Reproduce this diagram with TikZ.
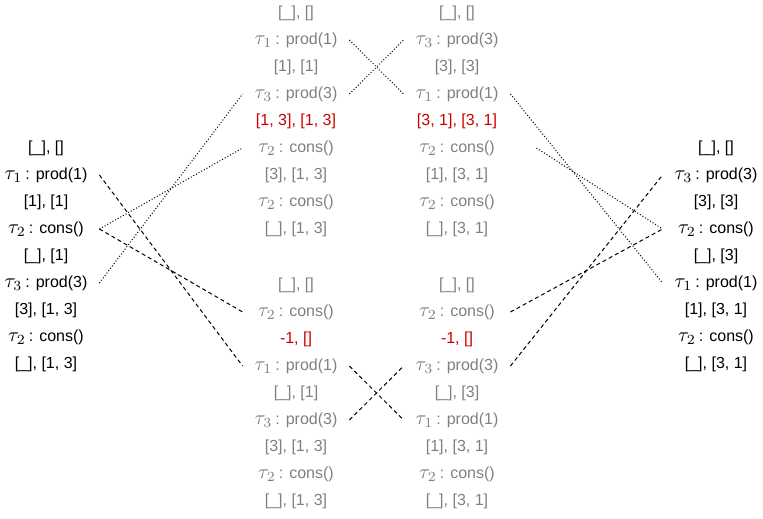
\documentclass[tikz,border=0pt]{standalone}
\usepackage{fontspec}
\setmainfont{Liberation Sans}
\definecolor{stategray}{RGB}{128,128,128}
\definecolor{statered}{RGB}{204,0,0}
\newcommand{\taulbl}[1]{{\fontsize{10}{12}\selectfont$\tau_{#1}$}\kern1.5pt:\kern3pt}
\begin{document}
\begin{tikzpicture}[x=0.5pt,y=-0.5pt,
  cell/.style={inner sep=0pt,minimum width=53pt,text height=6pt,text depth=1.8pt,font=\fontsize{8}{10}\selectfont},
  dotline/.style={draw,densely dotted,line width=0.5pt},
  dashline/.style={draw,dash pattern=on 2pt off 1.5pt,line width=0.5pt}]
\useasboundingbox (0,0) rectangle (763,518);
\foreach \c/\t [count=\i] in {black/{[\_], []}, black/{\taulbl1prod(1)}, black/{[1], [1]},
  black/{\taulbl2cons()}, black/{[\_], [1]}, black/{\taulbl3prod(3)},
  black/{[3], [1, 3]}, black/{\taulbl2cons()}, black/{[\_], [1, 3]}}
  \node[cell,text=\c] (L\i) at (46,148+27*\i-27) {\t};
\foreach \c/\t [count=\i] in {stategray/{[\_], []}, stategray/{\taulbl1prod(1)}, stategray/{[1], [1]},
  stategray/{\taulbl3prod(3)}, statered/{[1, 3], [1, 3]}, stategray/{\taulbl2cons()},
  stategray/{[3], [1, 3]}, stategray/{\taulbl2cons()}, stategray/{[\_], [1, 3]}}
  \node[cell,text=\c] (A\i) at (296,13+27*\i-27) {\t};
\foreach \c/\t [count=\i] in {stategray/{[\_], []}, stategray/{\taulbl3prod(3)}, stategray/{[3], [3]},
  stategray/{\taulbl1prod(1)}, statered/{[3, 1], [3, 1]}, stategray/{\taulbl2cons()},
  stategray/{[1], [3, 1]}, stategray/{\taulbl2cons()}, stategray/{[\_], [3, 1]}}
  \node[cell,text=\c] (B\i) at (457,13+27*\i-27) {\t};
\foreach \c/\t [count=\i] in {stategray/{[\_], []}, stategray/{\taulbl2cons()}, statered/{-1, []},
  stategray/{\taulbl1prod(1)}, stategray/{[\_], [1]}, stategray/{\taulbl3prod(3)},
  stategray/{[3], [1, 3]}, stategray/{\taulbl2cons()}, stategray/{[\_], [1, 3]}}
  \node[cell,text=\c] (C\i) at (296,285+27*\i-27) {\t};
\foreach \c/\t [count=\i] in {stategray/{[\_], []}, stategray/{\taulbl2cons()}, statered/{-1, []},
  stategray/{\taulbl3prod(3)}, stategray/{[\_], [3]}, stategray/{\taulbl1prod(1)},
  stategray/{[1], [3, 1]}, stategray/{\taulbl2cons()}, stategray/{[\_], [3, 1]}}
  \node[cell,text=\c] (D\i) at (457,285+27*\i-27) {\t};
\foreach \c/\t [count=\i] in {black/{[\_], []}, black/{\taulbl3prod(3)}, black/{[3], [3]},
  black/{\taulbl2cons()}, black/{[\_], [3]}, black/{\taulbl1prod(1)},
  black/{[1], [3, 1]}, black/{\taulbl2cons()}, black/{[\_], [3, 1]}}
  \node[cell,text=\c] (R\i) at (716,148+27*\i-27) {\t};
\path[dotline] (L4.east) -- (A6.west);
\path[dotline] (L6.east) -- (A4.west);
\path[dotline] (A2.east) -- (B4.west);
\path[dotline] (A4.east) -- (B2.west);
\path[dotline] (B4.east) -- (R6.west);
\path[dotline] ([xshift=13pt]B6.east) -- (R4.west);
\path[dashline] (L2.east) -- (C4.west);
\path[dashline] (L4.east) -- (C2.west);
\path[dashline] (C4.east) -- (D6.west);
\path[dashline] (C6.east) -- (D4.west);
\path[dashline] (D2.east) -- (R4.west);
\path[dashline] (D4.east) -- (R2.west);
\end{tikzpicture}
\end{document}
